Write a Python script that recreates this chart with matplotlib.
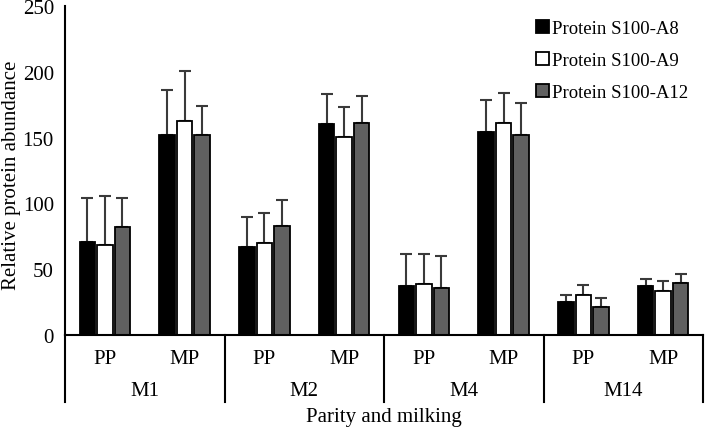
import matplotlib
matplotlib.use("Agg")
import matplotlib.pyplot as plt
import numpy as np

plt.rcParams['font.family'] = ['Liberation Serif', 'DejaVu Serif']

groups = ["M1", "M2", "M4", "M14"]
subcats = ["PP", "MP"]
series = ["Protein S100-A8", "Protein S100-A9", "Protein S100-A12"]
colors = ["#000000", "#ffffff", "#606060"]

# values in order: M1-PP, M1-MP, M2-PP, M2-MP, M4-PP, M4-MP, M14-PP, M14-MP
a8 = [70.4, 152.2, 67.1, 160.3, 37.5, 154.5, 25.3, 37.2]
a9 = [68.4, 162.6, 69.9, 150.2, 38.8, 161.1, 30.6, 33.4]
a12 = [81.8, 152.0, 82.6, 161.1, 35.5, 151.7, 21.5, 39.3]
a8_err = [33.5, 34.0, 22.3, 23.0, 24.3, 24.0, 5.3, 5.3]
a9_err = [37.0, 38.0, 22.8, 23.0, 23.0, 22.8, 7.4, 7.4]
a12_err = [22.0, 22.0, 20.0, 20.5, 24.5, 24.4, 6.6, 7.0]

values = [a8, a9, a12]
errors = [a8_err, a9_err, a12_err]

fig = plt.figure(figsize=(7.05, 4.31), dpi=100)
ax = fig.add_axes([65/705, 1-336/431, (703-65)/705, (336-7)/431])

n = len(a8)
x = np.arange(n)
width = 0.195
offset = 0.22
for i, (vals, errs, col, name) in enumerate(zip(values, errors, colors, series)):
    xs = x + (i-1)*offset
    ax.bar(xs, vals, width=width, color=col, edgecolor="black", linewidth=1.3,
           label=name, zorder=2)
    ax.errorbar(xs, vals, yerr=[np.zeros(n), errs], fmt="none", ecolor="#3a3a3a",
                elinewidth=1.5, capsize=4.5, capthick=1.5, zorder=1)

ax.set_xlim(-0.5, n-0.5)
ax.set_ylim(0, 250)
ax.set_yticks([0, 50, 100, 150, 200, 250])
ax.tick_params(axis='y', length=0, labelsize=15, pad=8)
ax.set_xticks([])
for s in ["top", "right"]:
    ax.spines[s].set_visible(False)
ax.spines["left"].set_linewidth(1.5)
ax.spines["bottom"].set_linewidth(1.5)

# hierarchical category axis
trans = ax.get_xaxis_transform()
def py(pix):
    # pixel row (from top) -> axes fraction y
    return (336 - pix) / (336 - 7)

for k, lab in enumerate(subcats * len(groups)):
    ax.text(k, py(360), lab, transform=trans, ha="center", va="center", fontsize=15)
for g, lab in enumerate(groups):
    ax.text(2*g + 0.5, py(392), lab, transform=trans, ha="center", va="center", fontsize=15)
for b in range(len(groups)+1):
    ax.plot([2*b - 0.5, 2*b - 0.5], [0, py(403)], transform=trans, color="black",
            lw=1.5, clip_on=False)

fig.text(384/705, 1-418/431, "Parity and milking", ha="center", va="center", fontsize=15)
fig.text(12/705, 1-175/431, "Relative protein abundance", rotation=90,
         ha="center", va="center", fontsize=15)

leg = ax.legend(loc="upper left", frameon=False, fontsize=13.5, handlelength=0.7,
                handleheight=0.7, handletextpad=0.15, labelspacing=0.8,
                borderaxespad=0, borderpad=0)
leg.set_bbox_to_anchor((536/705, 1-21/431), transform=fig.transFigure)

fig.savefig("out.png", dpi=100)
